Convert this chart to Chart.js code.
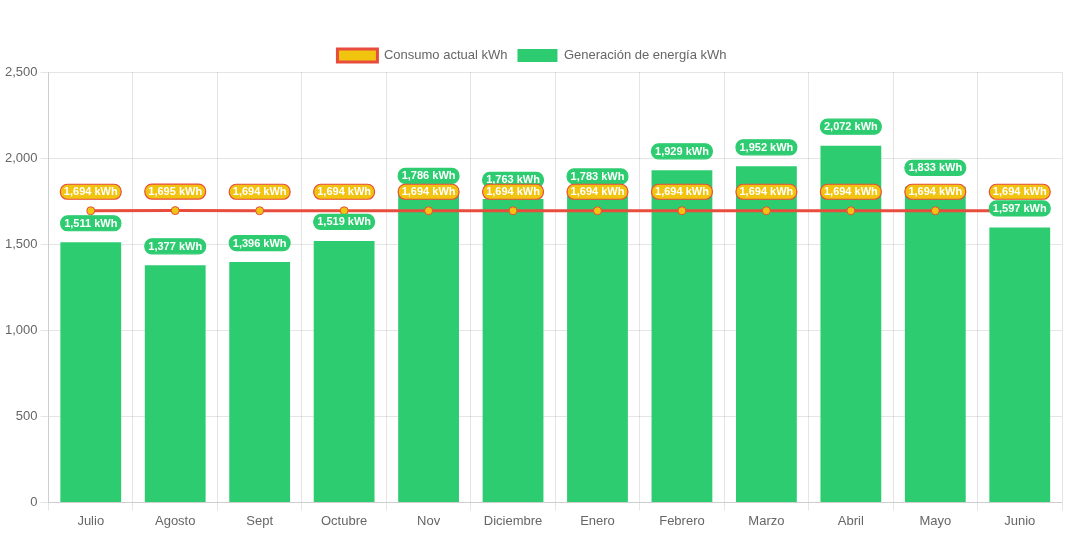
<!DOCTYPE html>
<html>
<head>
<meta charset="utf-8">
<script src="https://cdn.jsdelivr.net/npm/chart.js@4"></script>
<style>
  html, body { margin: 0; padding: 0; background: #fff; }
  #wrap { width: 1068px; height: 533px; }
</style>
</head>
<body>
<div id="wrap"><canvas id="energyChart"></canvas></div>
<script>
// ------------------- DATA -------------------
const months = ["Julio", "Agosto", "Sept", "Octubre", "Nov", "Diciembre", "Enero", "Febrero", "Marzo", "Abril", "Mayo", "Junio"];
const consumo = [1694, 1695, 1694, 1694, 1694, 1694, 1694, 1694, 1694, 1694, 1694, 1694];
const generacion = [1511, 1377, 1396, 1519, 1786, 1763, 1783, 1929, 1952, 2072, 1833, 1597];
const yTicks = [0, 500, 1000, 1500, 2000, 2500];

const RED = "#e74c3c";
const YELLOW = "#f1c40f";
const GREEN = "#2ecc71";

// ------------------- BADGE LABELS (datalabels-like) -------------------
function roundRect(c, x, y, w, h, r) {
  c.beginPath();
  c.moveTo(x + r, y);
  c.lineTo(x + w - r, y);
  c.arcTo(x + w, y, x + w, y + r, r);
  c.lineTo(x + w, y + h - r);
  c.arcTo(x + w, y + h, x + w - r, y + h, r);
  c.lineTo(x + r, y + h);
  c.arcTo(x, y + h, x, y + h - r, r);
  c.lineTo(x, y + r);
  c.arcTo(x, y, x + r, y, r);
  c.closePath();
}

const badgePlugin = {
  id: "badges",
  afterDatasetsDraw(chart) {
    const c = chart.ctx;
    c.save();
    c.font = "bold 11px Arial, 'Liberation Sans', sans-serif";
    c.textAlign = "center";
    c.textBaseline = "middle";
    // bars first, then line labels on top
    [1, 0].forEach(di => {
      const ds = chart.data.datasets[di];
      const meta = chart.getDatasetMeta(di);
      meta.data.forEach((el, i) => {
        const text = ds.data[i].toLocaleString("en-US") + " kWh";
        const w = c.measureText(text).width + 7;
        const h = 15;
        const cx = el.x;
        const cy = el.y - 19;
        roundRect(c, cx - w / 2, cy - h / 2, w, h, 7);
        c.fillStyle = ds.badgeBg;
        c.fill();
        c.lineWidth = 1.2;
        c.strokeStyle = ds.badgeBorder;
        c.stroke();
        c.fillStyle = "#fff";
        c.fillText(text, cx, cy + 0.5);
      });
    });
    c.restore();
  }
};

// ------------------- CHART -------------------
const ctx = document.getElementById("energyChart").getContext("2d");
new Chart(ctx, {
  type: "bar",
  data: {
    labels: months,
    datasets: [
      {
        type: "line",
        label: "Consumo actual kWh",
        data: consumo,
        borderColor: RED,
        backgroundColor: YELLOW,
        borderWidth: 3,
        pointRadius: 4,
        pointBackgroundColor: YELLOW,
        pointBorderColor: RED,
        pointBorderWidth: 1,
        tension: 0,
        badgeBg: YELLOW,
        badgeBorder: RED
      },
      {
        label: "Generación de energía kWh",
        data: generacion,
        backgroundColor: GREEN,
        borderColor: GREEN,
        borderWidth: 0,
        badgeBg: GREEN,
        badgeBorder: GREEN
      }
    ]
  },
  options: {
    responsive: true,
    maintainAspectRatio: false,
    animation: false,
    layout: { padding: { top: 39, right: 6, left: 2, bottom: 1 } },
    scales: {
      y: {
        min: 0,
        max: 2500,
        afterBuildTicks: axis => { axis.ticks = yTicks.map(v => ({ value: v })); },
        ticks: { color: "#666", font: { size: 13 } }
      },
      x: {
        ticks: { color: "#666", font: { size: 13 } }
      }
    },
    plugins: {
      legend: {
        display: true,
        labels: { color: "#666", font: { size: 13 } }
      },
      tooltip: { enabled: false }
    }
  },
  plugins: [badgePlugin]
});
</script>
</body>
</html>
